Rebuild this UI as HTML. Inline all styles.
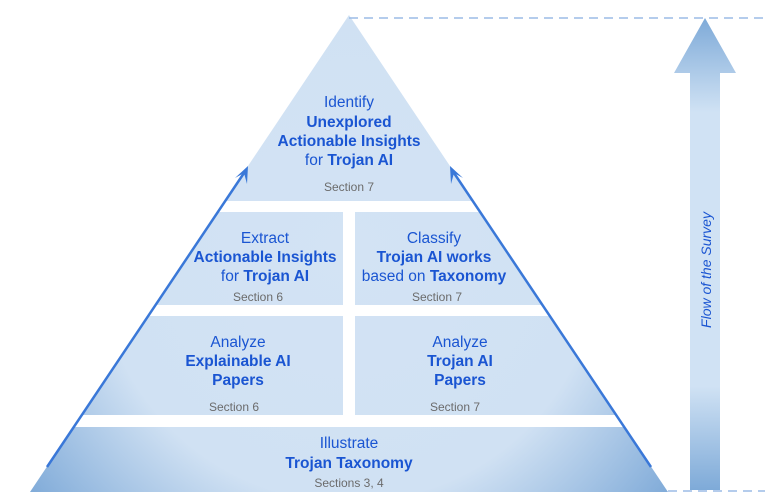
<!DOCTYPE html>
<html><head><meta charset="utf-8"><style>
html,body{margin:0;padding:0;background:#fff;}
svg{display:block;}
text{font-family:"Liberation Sans",Arial,sans-serif;text-anchor:middle;}
.n{font-size:15.5px;fill:#1a55d2;}
.b{font-size:15.5px;fill:#1a55d2;font-weight:bold;}
.s{font-size:12px;fill:#6b6b6b;}
</style></head><body>
<svg width="777" height="503" viewBox="0 0 777 503" xmlns="http://www.w3.org/2000/svg">
<defs>
<radialGradient id="g" cx="349" cy="250" r="420" gradientUnits="userSpaceOnUse">
<stop offset="0" stop-color="#d3e3f4"/>
<stop offset="0.6" stop-color="#d0e1f3"/>
<stop offset="1" stop-color="#76a4d5"/>
</radialGradient>
<linearGradient id="ar" x1="0" y1="0" x2="0" y2="1">
<stop offset="0" stop-color="#7eaad8"/>
<stop offset="0.2" stop-color="#d0e2f4"/>
<stop offset="0.78" stop-color="#d0e2f4"/>
<stop offset="1" stop-color="#7eaad8"/>
</linearGradient>
</defs>
<polygon points="349,15 30,492 668,492" fill="url(#g)"/>
<rect x="0" y="201" width="700" height="11" fill="#fff"/>
<rect x="0" y="305" width="700" height="11" fill="#fff"/>
<rect x="0" y="415" width="700" height="12" fill="#fff"/>
<rect x="343" y="205" width="12" height="215" fill="#fff"/>
<line x1="349" y1="18" x2="765" y2="18" stroke="#9bbbe6" stroke-width="1.5" stroke-dasharray="9,6"/>
<line x1="668" y1="491" x2="765" y2="491" stroke="#9bbbe6" stroke-width="1.5" stroke-dasharray="9,6"/>
<line x1="47" y1="467" x2="244" y2="173" stroke="#3a78d8" stroke-width="2.5"/>
<polygon points="248,166 235,178 244,173 247,184" fill="#3a78d8"/>
<line x1="651" y1="467" x2="454" y2="173" stroke="#3a78d8" stroke-width="2.5"/>
<polygon points="450,166 463,178 454,173 451,184" fill="#3a78d8"/>
<polygon points="705,18 736,73 720,73 720,490 690,490 690,73 674,73" fill="url(#ar)"/>
<text transform="translate(711,270) rotate(-90)" style="font-size:14px;font-style:italic;fill:#1a55d2;">Flow of the Survey</text>

<text x="349" y="107" class="n">Identify</text>
<text x="349" y="127" class="b">Unexplored</text>
<text x="349" y="146" class="b">Actionable Insights</text>
<text x="349" y="165" class="n">for <tspan font-weight="bold">Trojan AI</tspan></text>
<text x="349" y="191" class="s">Section 7</text>

<text x="265" y="243" class="n">Extract</text>
<text x="265" y="262" class="b">Actionable Insights</text>
<text x="265" y="281" class="n">for <tspan font-weight="bold">Trojan AI</tspan></text>
<text x="258" y="301" class="s">Section 6</text>

<text x="434" y="243" class="n">Classify</text>
<text x="434" y="262" class="b">Trojan AI works</text>
<text x="434" y="281" class="n">based on <tspan font-weight="bold">Taxonomy</tspan></text>
<text x="437" y="301" class="s">Section 7</text>

<text x="238" y="347" class="n">Analyze</text>
<text x="238" y="366" class="b">Explainable AI</text>
<text x="238" y="385" class="b">Papers</text>
<text x="234" y="411" class="s">Section 6</text>

<text x="460" y="347" class="n">Analyze</text>
<text x="460" y="366" class="b">Trojan AI</text>
<text x="460" y="385" class="b">Papers</text>
<text x="455" y="411" class="s">Section 7</text>

<text x="349" y="448" class="n">Illustrate</text>
<text x="349" y="468" class="b">Trojan Taxonomy</text>
<text x="349" y="487" class="s">Sections 3, 4</text>
</svg>
</body></html>
